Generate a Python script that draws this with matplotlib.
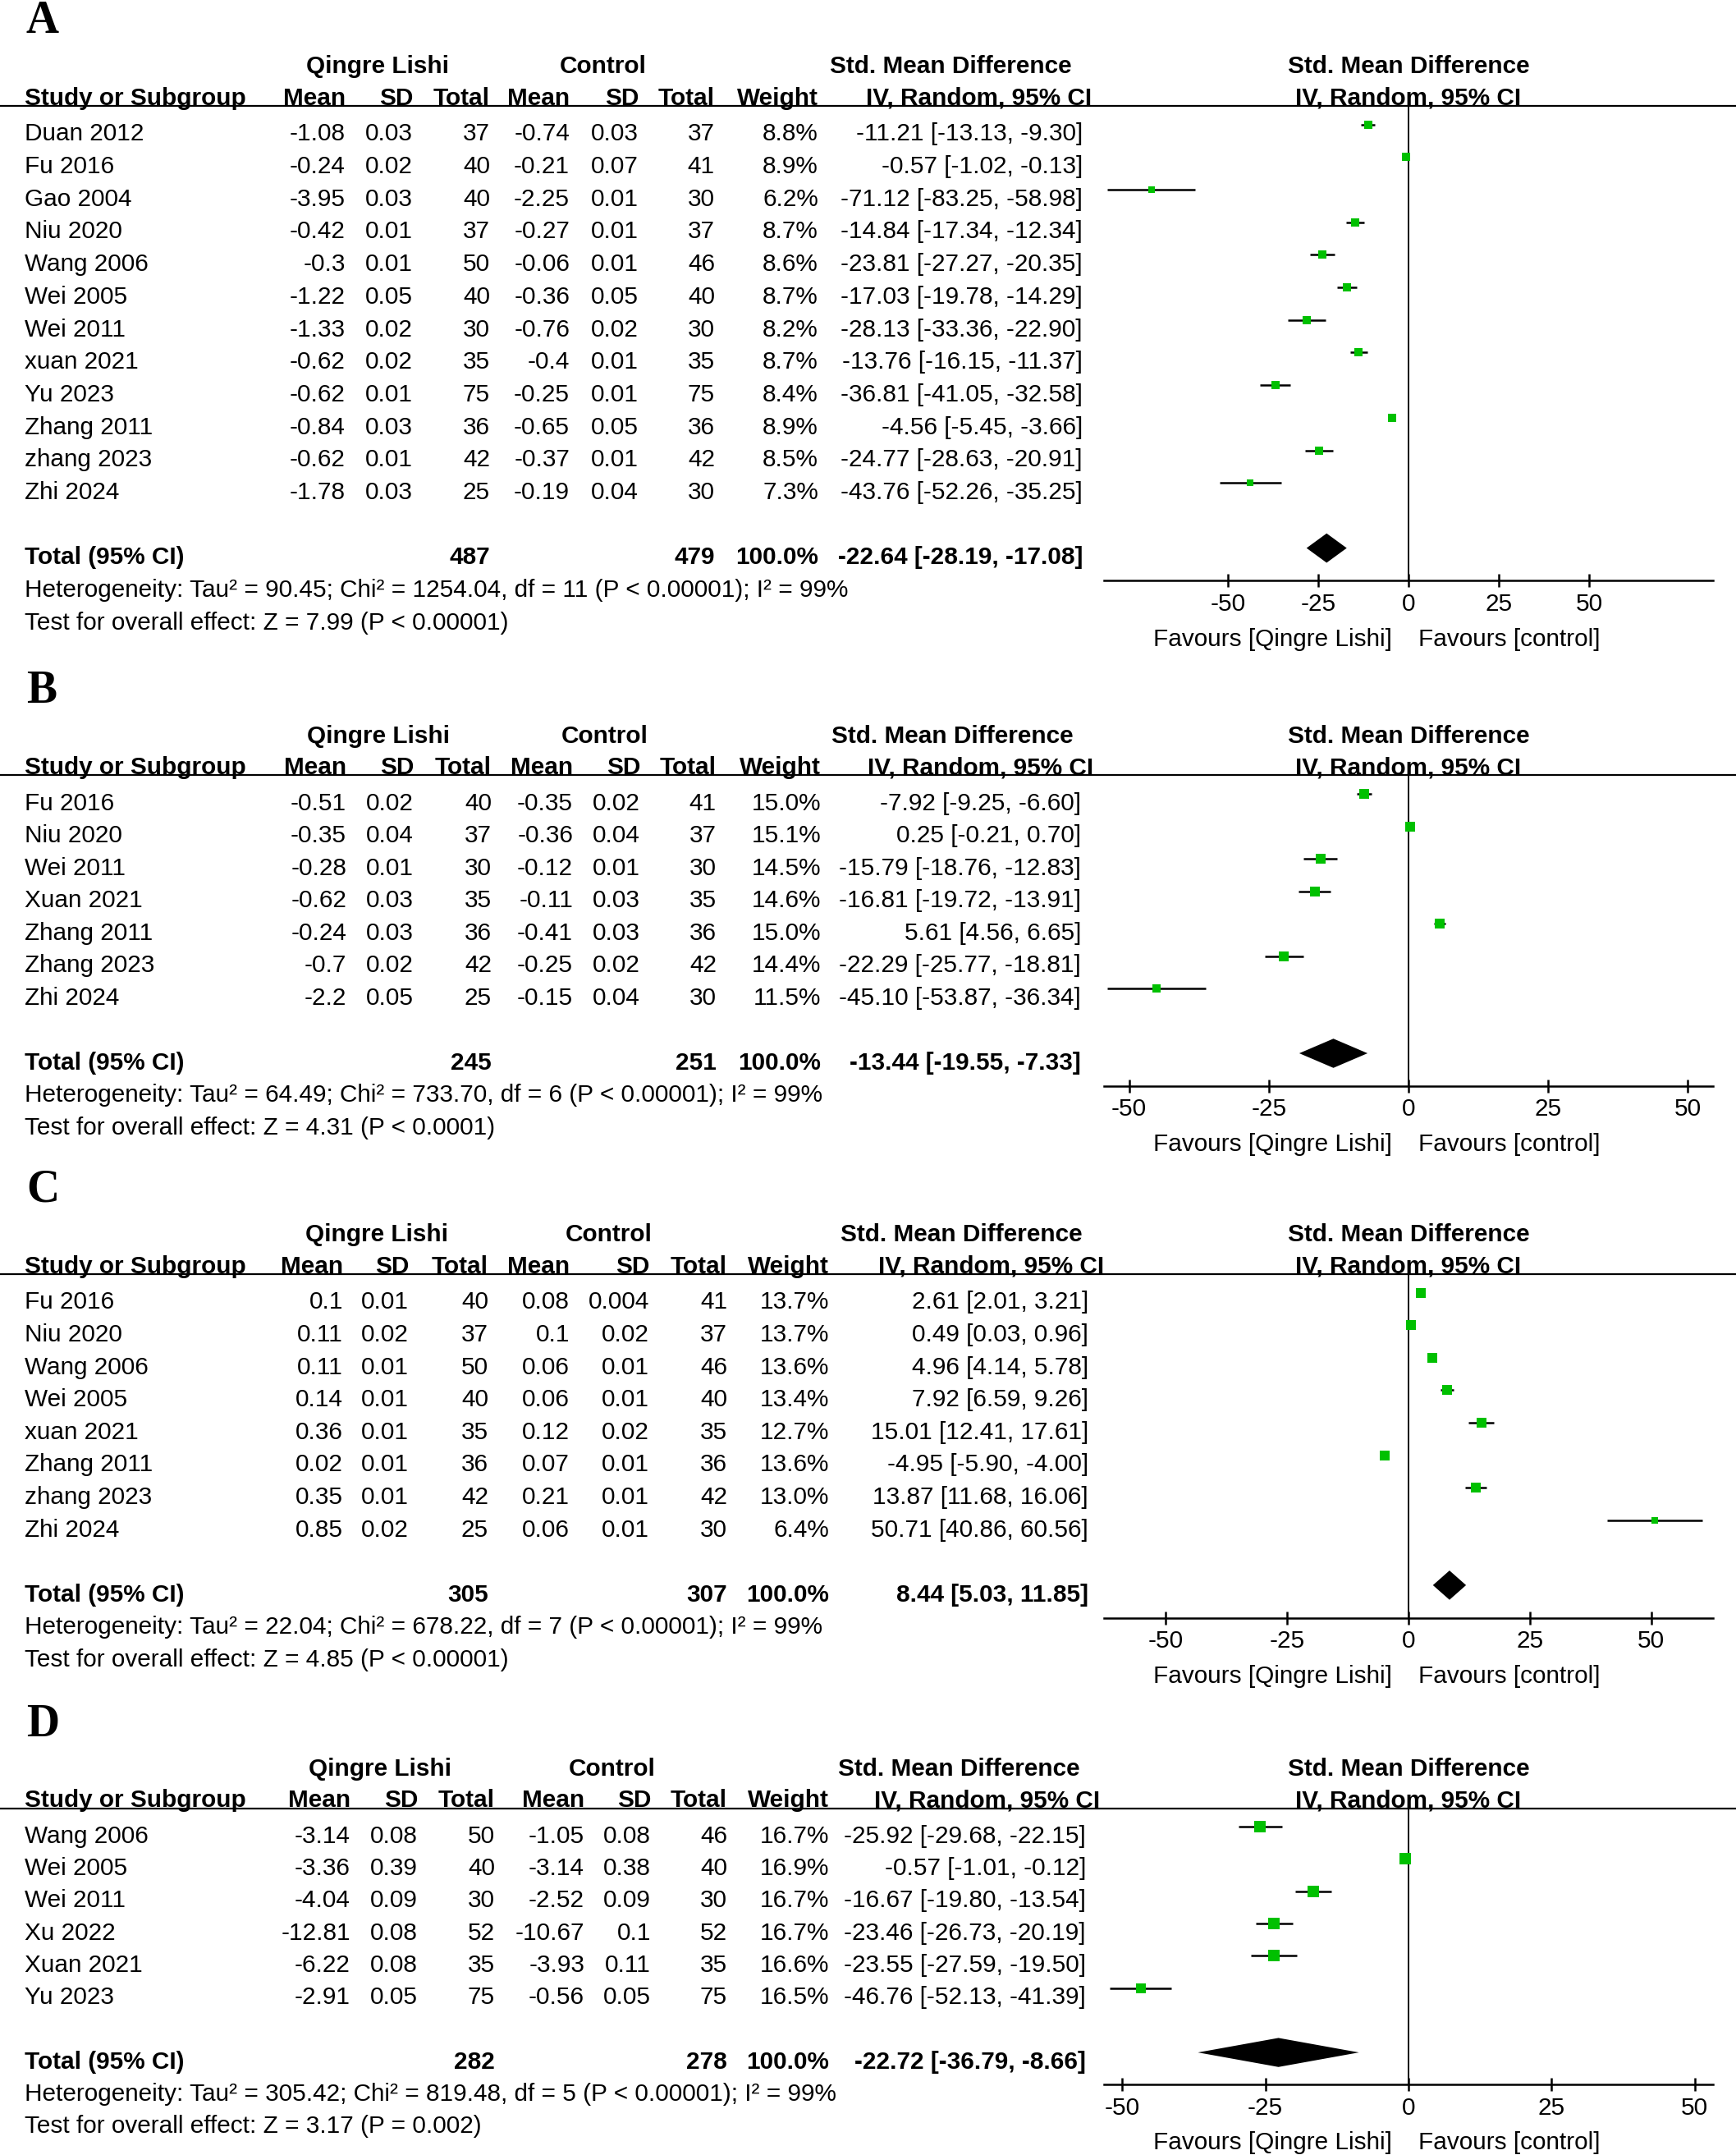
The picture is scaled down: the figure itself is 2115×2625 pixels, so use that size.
import matplotlib.pyplot as plt
import numpy as np

plt.rcParams['font.family'] = ['Liberation Sans', 'DejaVu Sans']

W, H = 2115, 2625

# ---------------- data ----------------
# panel A
a_studies = ['Duan 2012', 'Fu 2016', 'Gao 2004', 'Niu 2020', 'Wang 2006', 'Wei 2005',
             'Wei 2011', 'xuan 2021', 'Yu 2023', 'Zhang 2011', 'zhang 2023', 'Zhi 2024']
a_mean1 = [-1.08, -0.24, -3.95, -0.42, -0.3, -1.22, -1.33, -0.62, -0.62, -0.84, -0.62, -1.78]
a_sd1 = [0.03, 0.02, 0.03, 0.01, 0.01, 0.05, 0.02, 0.02, 0.01, 0.03, 0.01, 0.03]
a_n1 = [37, 40, 40, 37, 50, 40, 30, 35, 75, 36, 42, 25]
a_mean2 = [-0.74, -0.21, -2.25, -0.27, -0.06, -0.36, -0.76, -0.4, -0.25, -0.65, -0.37, -0.19]
a_sd2 = [0.03, 0.07, 0.01, 0.01, 0.01, 0.05, 0.02, 0.01, 0.01, 0.05, 0.01, 0.04]
a_n2 = [37, 41, 30, 37, 46, 40, 30, 35, 75, 36, 42, 30]
a_weight = [8.8, 8.9, 6.2, 8.7, 8.6, 8.7, 8.2, 8.7, 8.4, 8.9, 8.5, 7.3]
a_smd = [-11.21, -0.57, -71.12, -14.84, -23.81, -17.03, -28.13, -13.76, -36.81, -4.56, -24.77, -43.76]
a_lo = [-13.13, -1.02, -83.25, -17.34, -27.27, -19.78, -33.36, -16.15, -41.05, -5.45, -28.63, -52.26]
a_hi = [-9.30, -0.13, -58.98, -12.34, -20.35, -14.29, -22.90, -11.37, -32.58, -3.66, -20.91, -35.25]
a_total = [487, 479, -22.64, -28.19, -17.08]
a_het = 'Tau² = 90.45; Chi² = 1254.04, df = 11 (P < 0.00001); I² = 99%'
a_test = 'Z = 7.99 (P < 0.00001)'

# panel B
b_studies = ['Fu 2016', 'Niu 2020', 'Wei 2011', 'Xuan 2021', 'Zhang 2011', 'Zhang 2023', 'Zhi 2024']
b_mean1 = [-0.51, -0.35, -0.28, -0.62, -0.24, -0.7, -2.2]
b_sd1 = [0.02, 0.04, 0.01, 0.03, 0.03, 0.02, 0.05]
b_n1 = [40, 37, 30, 35, 36, 42, 25]
b_mean2 = [-0.35, -0.36, -0.12, -0.11, -0.41, -0.25, -0.15]
b_sd2 = [0.02, 0.04, 0.01, 0.03, 0.03, 0.02, 0.04]
b_n2 = [41, 37, 30, 35, 36, 42, 30]
b_weight = [15.0, 15.1, 14.5, 14.6, 15.0, 14.4, 11.5]
b_smd = [-7.92, 0.25, -15.79, -16.81, 5.61, -22.29, -45.10]
b_lo = [-9.25, -0.21, -18.76, -19.72, 4.56, -25.77, -53.87]
b_hi = [-6.60, 0.70, -12.83, -13.91, 6.65, -18.81, -36.34]
b_total = [245, 251, -13.44, -19.55, -7.33]
b_het = 'Tau² = 64.49; Chi² = 733.70, df = 6 (P < 0.00001); I² = 99%'
b_test = 'Z = 4.31 (P < 0.0001)'

# panel C
c_studies = ['Fu 2016', 'Niu 2020', 'Wang 2006', 'Wei 2005', 'xuan 2021', 'Zhang 2011', 'zhang 2023', 'Zhi 2024']
c_mean1 = [0.1, 0.11, 0.11, 0.14, 0.36, 0.02, 0.35, 0.85]
c_sd1 = [0.01, 0.02, 0.01, 0.01, 0.01, 0.01, 0.01, 0.02]
c_n1 = [40, 37, 50, 40, 35, 36, 42, 25]
c_mean2 = [0.08, 0.1, 0.06, 0.06, 0.12, 0.07, 0.21, 0.06]
c_sd2 = [0.004, 0.02, 0.01, 0.01, 0.02, 0.01, 0.01, 0.01]
c_n2 = [41, 37, 46, 40, 35, 36, 42, 30]
c_weight = [13.7, 13.7, 13.6, 13.4, 12.7, 13.6, 13.0, 6.4]
c_smd = [2.61, 0.49, 4.96, 7.92, 15.01, -4.95, 13.87, 50.71]
c_lo = [2.01, 0.03, 4.14, 6.59, 12.41, -5.90, 11.68, 40.86]
c_hi = [3.21, 0.96, 5.78, 9.26, 17.61, -4.00, 16.06, 60.56]
c_total = [305, 307, 8.44, 5.03, 11.85]
c_het = 'Tau² = 22.04; Chi² = 678.22, df = 7 (P < 0.00001); I² = 99%'
c_test = 'Z = 4.85 (P < 0.00001)'

# panel D
d_studies = ['Wang 2006', 'Wei 2005', 'Wei 2011', 'Xu 2022', 'Xuan 2021', 'Yu 2023']
d_mean1 = [-3.14, -3.36, -4.04, -12.81, -6.22, -2.91]
d_sd1 = [0.08, 0.39, 0.09, 0.08, 0.08, 0.05]
d_n1 = [50, 40, 30, 52, 35, 75]
d_mean2 = [-1.05, -3.14, -2.52, -10.67, -3.93, -0.56]
d_sd2 = [0.08, 0.38, 0.09, 0.1, 0.11, 0.05]
d_n2 = [46, 40, 30, 52, 35, 75]
d_weight = [16.7, 16.9, 16.7, 16.7, 16.6, 16.5]
d_smd = [-25.92, -0.57, -16.67, -23.46, -23.55, -46.76]
d_lo = [-29.68, -1.01, -19.80, -26.73, -27.59, -52.13]
d_hi = [-22.15, -0.12, -13.54, -20.19, -19.50, -41.39]
d_total = [282, 278, -22.72, -36.79, -8.66]
d_het = 'Tau² = 305.42; Chi² = 819.48, df = 5 (P < 0.00001); I² = 99%'
d_test = 'Z = 3.17 (P = 0.002)'

ticks = [-50, -25, 0, 25, 50]

# ---------------- layout (pixels) ----------------
FS = 21.4
GREEN = '#00c000'
FX0, FX1 = 1345, 2087   # forest plot x extent

layouts = {
    'A': dict(row0=151.5, step=39.7, lim=84.2,
              cols=[421, 503, 597, 694, 778, 871, 997, 1319], iv=1330, q=460, c=735, s=1158),
    'B': dict(row0=967, step=39.5, lim=54.5,
              cols=[422, 504, 599, 698, 780, 873, 1000, 1317], iv=1332, q=461, c=737, s=1160),
    'C': dict(row0=1574.5, step=39.6, lim=62.7,
              cols=[418, 498, 595, 694, 791, 886, 1010, 1326], iv=1345, q=459, c=742, s=1171),
    'D': dict(row0=2225, step=39.3, lim=53.2,
              cols=[427, 509, 603, 712, 793, 886, 1010, 1323], iv=1340, q=463, c=746, s=1168),
}

fig = plt.figure(figsize=(W / 100, H / 100), dpi=100)


def axes_px(x0, x1, top, bot, lay):
    ytop = lay['row0'] + top * lay['step']
    ybot = lay['row0'] + bot * lay['step']
    ax = fig.add_axes([x0 / W, 1 - ybot / H, (x1 - x0) / W, (ybot - ytop) / H])
    ax.set_ylim(bot, top)
    return ax


def draw_panel(letter, studies, m1, s1, n1, m2, s2, n2, wt, smd, lo, hi, total, het, test):
    lay = layouts[letter]
    n = len(studies)
    top, bot = -3.9, n + 4.6
    cols = lay['cols']
    B = 0.5  # baseline offset from a row's mark position

    tab = axes_px(0, W, top, bot, lay)
    tab.set_xlim(0, W)
    tab.axis('off')

    tab.text(32, -2.8, letter, fontfamily='Liberation Serif', fontweight='bold',
             fontsize=40, va='baseline', ha='left')

    # header
    hb = dict(fontsize=FS, fontweight='bold', va='baseline')
    tab.text(lay['q'], -1.57, 'Qingre Lishi', ha='center', **hb)
    tab.text(lay['c'], -1.57, 'Control', ha='center', **hb)
    tab.text(lay['s'], -1.57, 'Std. Mean Difference', ha='center', **hb)
    tab.text(30, -0.6, 'Study or Subgroup', ha='left', **hb)
    for x, lab in zip(cols[:7], ['Mean', 'SD', 'Total', 'Mean', 'SD', 'Total', 'Weight']):
        tab.text(x, -0.6, lab, ha='right', **hb)
    tab.text(lay['iv'], -0.6, 'IV, Random, 95% CI', ha='right', **hb)
    tab.axhline(-0.57, color='black', lw=1.6)

    # study rows
    for i in range(n):
        cells = [str(m1[i]), str(s1[i]), str(n1[i]), str(m2[i]), str(s2[i]), str(n2[i]),
                 f'{wt[i]:.1f}%', f'{smd[i]:.2f} [{lo[i]:.2f}, {hi[i]:.2f}]']
        tab.text(30, i + B, studies[i], ha='left', va='baseline', fontsize=FS)
        for x, s in zip(cols, cells):
            tab.text(x, i + B, s, ha='right', va='baseline', fontsize=FS)

    # total / heterogeneity
    tr = n + 1
    tb = dict(fontsize=FS, fontweight='bold', va='baseline', ha='right')
    tab.text(30, tr + B, 'Total (95% CI)', fontsize=FS, fontweight='bold', va='baseline', ha='left')
    tab.text(cols[2], tr + B, str(total[0]), **tb)
    tab.text(cols[5], tr + B, str(total[1]), **tb)
    tab.text(cols[6], tr + B, '100.0%', **tb)
    tab.text(cols[7], tr + B, f'{total[2]:.2f} [{total[3]:.2f}, {total[4]:.2f}]', **tb)
    tab.text(30, tr + 1 + B, 'Heterogeneity: ' + het, fontsize=FS, va='baseline', ha='left')
    tab.text(30, tr + 2 + B, 'Test for overall effect: ' + test, fontsize=FS, va='baseline', ha='left')

    # forest plot
    ax = axes_px(FX0, FX1, top, bot, lay)
    ax.patch.set_alpha(0)
    ax.set_xlim(-lay['lim'], lay['lim'])
    rows = np.arange(n)
    ax.hlines(rows, lo, hi, color='black', lw=1.8, zorder=2)
    for i in range(n):
        size = 3.2 * np.sqrt(wt[i]) * 0.72
        ax.plot(smd[i], i, marker='s', ms=size, color=GREEN, mew=0, zorder=3)
    est, dlo, dhi = total[2], total[3], total[4]
    ax.fill([dlo, est, dhi, est], [tr, tr - 0.45, tr, tr + 0.45], color='black', lw=0, zorder=3)
    ax.vlines(0, -0.57, n + 2, color='black', lw=1.4, zorder=1)

    for side in ['top', 'left', 'right']:
        ax.spines[side].set_visible(False)
    ax.spines['bottom'].set_position(('data', n + 2))
    ax.spines['bottom'].set_linewidth(1.8)
    ax.set_yticks([])
    ax.set_xticks(ticks)
    ax.set_xticklabels([str(t) for t in ticks])
    ax.tick_params(axis='x', direction='inout', length=11, width=1.8, pad=5, labelsize=FS)

    ax.text(0, -1.57, 'Std. Mean Difference', ha='center', va='baseline', fontsize=FS, fontweight='bold')
    ax.text(0, -0.6, 'IV, Random, 95% CI', ha='center', va='baseline', fontsize=FS, fontweight='bold')
    ax.annotate('Favours [Qingre Lishi]', xy=(0, n + 4.0), xytext=(-20, 0), textcoords='offset pixels',
                ha='right', va='baseline', fontsize=FS, annotation_clip=False)
    ax.annotate('Favours [control]', xy=(0, n + 4.0), xytext=(12, 0), textcoords='offset pixels',
                ha='left', va='baseline', fontsize=FS, annotation_clip=False)


draw_panel('A', a_studies, a_mean1, a_sd1, a_n1, a_mean2, a_sd2, a_n2, a_weight, a_smd, a_lo, a_hi, a_total, a_het, a_test)
draw_panel('B', b_studies, b_mean1, b_sd1, b_n1, b_mean2, b_sd2, b_n2, b_weight, b_smd, b_lo, b_hi, b_total, b_het, b_test)
draw_panel('C', c_studies, c_mean1, c_sd1, c_n1, c_mean2, c_sd2, c_n2, c_weight, c_smd, c_lo, c_hi, c_total, c_het, c_test)
draw_panel('D', d_studies, d_mean1, d_sd1, d_n1, d_mean2, d_sd2, d_n2, d_weight, d_smd, d_lo, d_hi, d_total, d_het, d_test)

fig.savefig('out.png', dpi=100)
